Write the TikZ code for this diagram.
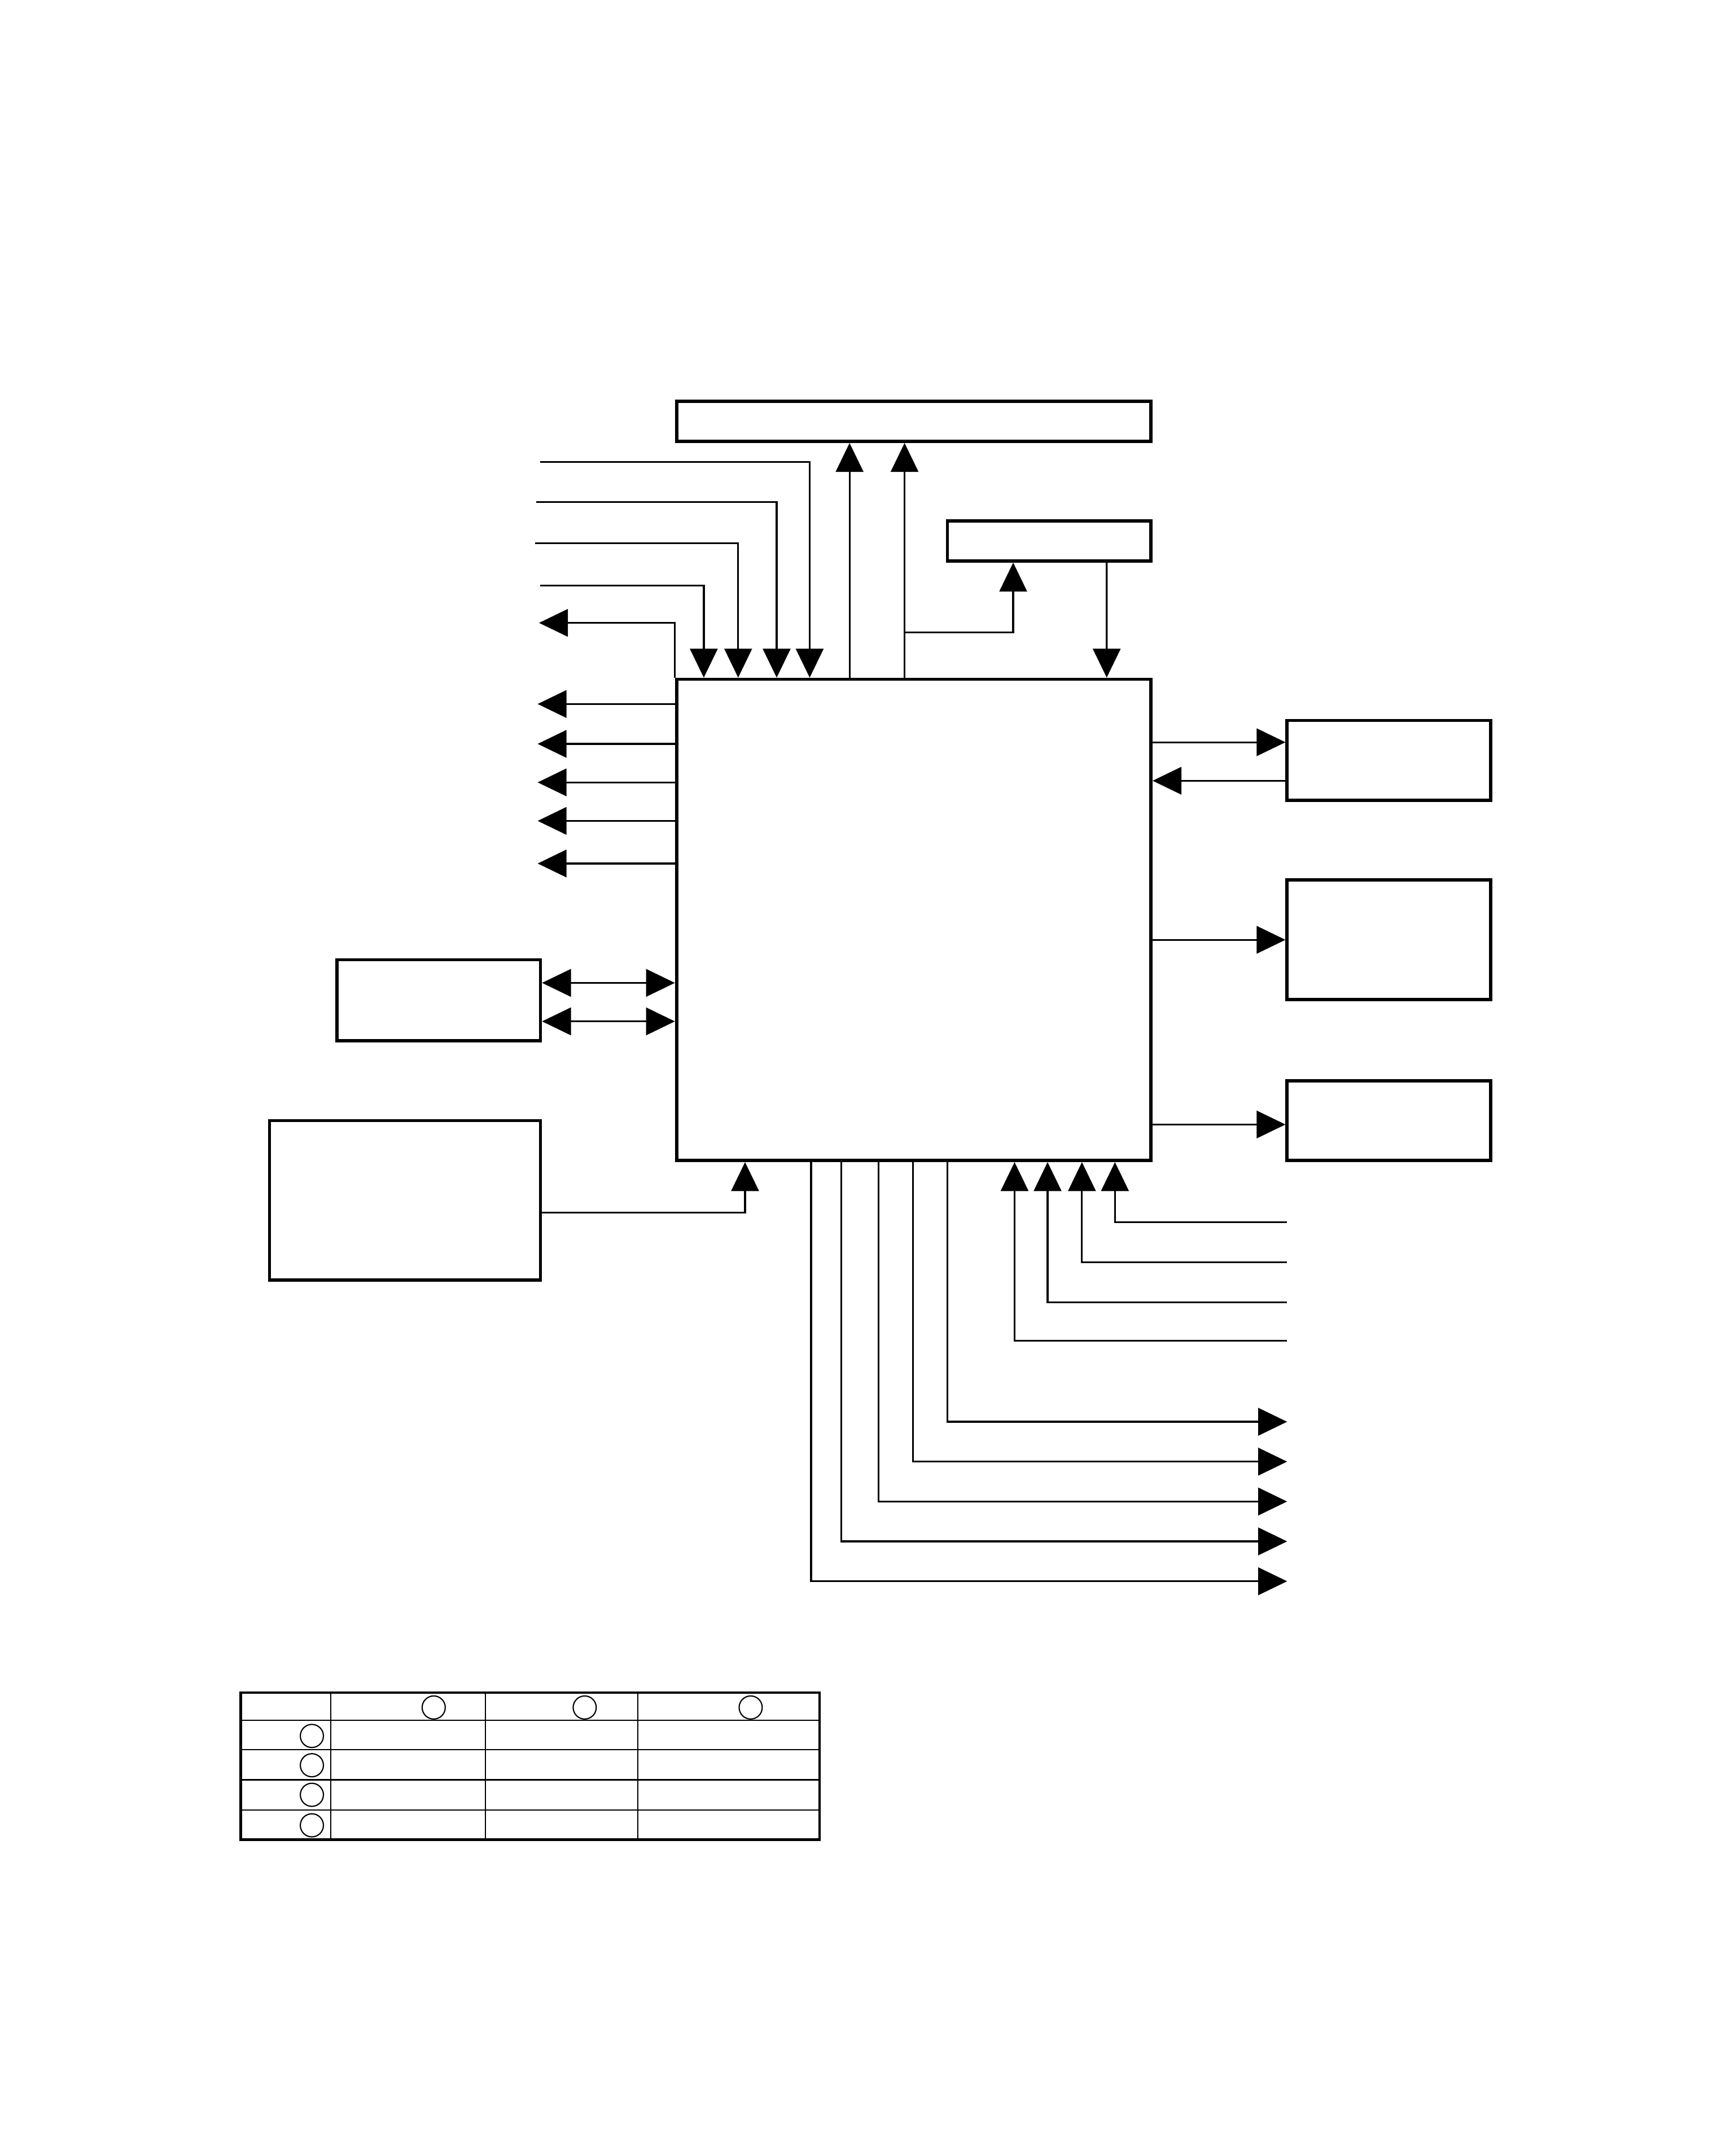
\documentclass[tikz,border=0pt]{standalone}
\usetikzlibrary{arrows.meta,calc}
\begin{document}
\begin{tikzpicture}[x=0.2mm,y=-0.2mm,
  blk/.style={draw,line width=1.35pt,inner sep=0pt,rectangle},
  conn/.style={line width=0.75pt},
  arr/.style={conn,-{Triangle[length=4.2mm,width=4mm]}},
  darr/.style={conn,{Triangle[length=4.2mm,width=4mm]}-{Triangle[length=4.2mm,width=4mm]}},
  tline/.style={line width=0.55pt},
  tcirc/.style={line width=0.5pt}]
\fill[white] (0,0) rectangle (1258,1568);
\useasboundingbox (0,0) rectangle (1258,1568);

% blocks
\node[blk,minimum width=69mm,minimum height=5.8mm] (topbar) at (664.5,306.5) {};
\node[blk,minimum width=29.6mm,minimum height=5.8mm] (smallbox) at (763,393.5) {};
\node[blk,minimum width=69mm,minimum height=70mm] (main) at (664.5,669) {};
\node[blk,minimum width=29.6mm,minimum height=11.6mm] (r1) at (1010,553) {};
\node[blk,minimum width=29.6mm,minimum height=17.4mm] (r2) at (1010,683.5) {};
\node[blk,minimum width=29.6mm,minimum height=11.6mm] (r3) at (1010,815) {};
\node[blk,minimum width=29.6mm,minimum height=11.8mm] (l1) at (319,727.5) {};
\node[blk,minimum width=39.4mm,minimum height=23.2mm] (l2) at (294.5,873) {};

% free ends
\coordinate (in1) at (393,336);
\coordinate (in2) at (390,365);
\coordinate (in3) at (389,395);
\coordinate (in4) at (393,426);
\coordinate (out0) at (392,453);
\coordinate (out1) at (391,512);
\coordinate (out2) at (391,541);
\coordinate (out3) at (391,569);
\coordinate (out4) at (391,597);
\coordinate (out5) at (391,628);
\coordinate (bin1) at (936,889);
\coordinate (bin2) at (936,918);
\coordinate (bin3) at (936,947);
\coordinate (bin4) at (936,975);
\coordinate (bo1) at (936,1150);
\coordinate (bo2) at (936,1121);
\coordinate (bo3) at (936,1092);
\coordinate (bo4) at (936,1063);
\coordinate (bo5) at (936,1034);
\coordinate (d1) at ($(l1.north east)+(0,18)$);
\coordinate (d2) at ($(l1.north east)+(0,46)$);
\coordinate (l2b) at ($(l2.north east)+(0,68)$);
\coordinate (ra) at ($(r1.north west)+(0,17)$);
\coordinate (rb) at ($(r1.north west)+(0,45)$);
\coordinate (rc) at ($(r3.north west)+(0,33)$);

% top inputs
\draw[arr] (in1) -| ($(main.north west)+(98,0)$);
\draw[arr] (in2) -| ($(main.north west)+(74,0)$);
\draw[arr] (in3) -| ($(main.north west)+(46,0)$);
\draw[arr] (in4) -| ($(main.north west)+(21,0)$);
% to top bar
\draw[arr] ($(main.north west)+(127,0)$) -- ($(topbar.south west)+(127,0)$);
\draw[arr] ($(main.north west)+(167,0)$) -- ($(topbar.south west)+(167,0)$);
\draw[arr] ($(main.north west)+(167,-33)$) -| ($(smallbox.south west)+(49,0)$);
\draw[arr] ($(smallbox.south west)+(117,0)$) -- ($(main.north west)+(314,0)$);

% left outputs
\draw[arr] (main.north west) |- (out0);
\foreach \o in {out1,out2,out3,out4,out5}
  \draw[arr] (main.west |- \o) -- (\o);

% left boxes
\draw[darr] (d1) -- (main.west |- d1);
\draw[darr] (d2) -- (main.west |- d2);
\draw[arr] (l2b) -| ($(main.south west)+(51,0)$);

% right boxes
\draw[arr] (main.east |- ra) -- (ra);
\draw[arr] (rb) -- (main.east |- rb);
\draw[arr] (main.east |- r2.west) -- (r2.west);
\draw[arr] (main.east |- rc) -- (rc);

% bottom inputs
\draw[arr] (bin1) -| ($(main.south west)+(320,0)$);
\draw[arr] (bin2) -| ($(main.south west)+(296,0)$);
\draw[arr] (bin3) -| ($(main.south west)+(271,0)$);
\draw[arr] (bin4) -| ($(main.south west)+(247,0)$);

% bottom outputs
\draw[arr] ($(main.south west)+(99,0)$) |- (bo1);
\draw[arr] ($(main.south west)+(121,0)$) |- (bo2);
\draw[arr] ($(main.south west)+(148,0)$) |- (bo3);
\draw[arr] ($(main.south west)+(173,0)$) |- (bo4);
\draw[arr] ($(main.south west)+(198,0)$) |- (bo5);

% table
\draw[line width=1.1pt] (175,1231) rectangle (596,1338);
\foreach \xx in {240.6,352.9,463.8}
  \draw[tline] (\xx,1231) -- (\xx,1338);
\foreach \yy in {1251,1272.4,1294.4,1316.3}
  \draw[tline] (175,\yy) -- (596,\yy);
\foreach \xx in {315.4,425.2,545.9}
  \draw[tcirc] (\xx,1241.8) circle[radius=1.68mm];
\foreach \yy in {1262.5,1283.8,1305.3,1327.5}
  \draw[tcirc] (226.8,\yy) circle[radius=1.68mm];
\end{tikzpicture}
\end{document}
